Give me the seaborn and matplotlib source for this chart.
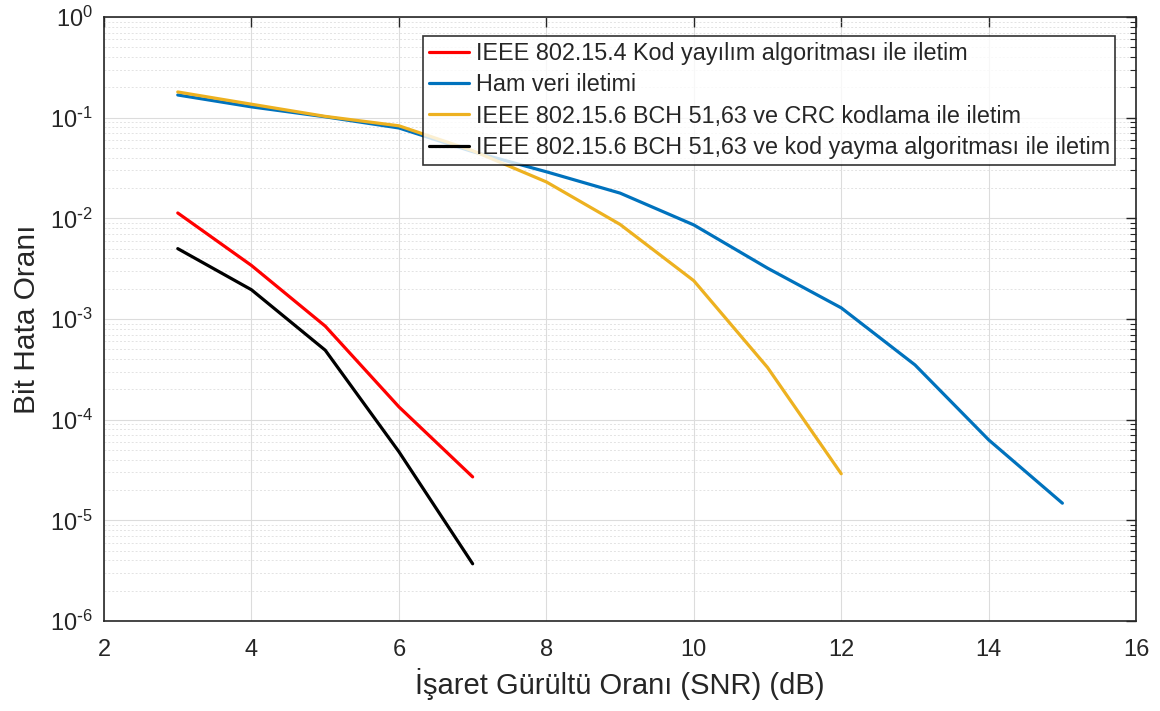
import numpy as np
import pandas as pd
import matplotlib
matplotlib.use('Agg')
import matplotlib.pyplot as plt
import matplotlib.ticker as mticker
import seaborn as sns

# Veri
snr_kisa = [3, 4, 5, 6, 7]
snr_orta = [3, 4, 5, 6, 7, 8, 9, 10, 11, 12]
snr_uzun = [3, 4, 5, 6, 7, 8, 9, 10, 11, 12, 13, 14, 15]

ber_802154 = [0.0113, 0.0034, 8.5e-4, 1.34e-4, 2.7e-5]
ber_ham = [0.168, 0.128, 0.102, 0.079, 0.046, 0.029, 0.0178, 0.0086, 0.0032,
           1.29e-3, 3.5e-4, 6.3e-5, 1.48e-5]
ber_bch_crc = [0.18, 0.136, 0.103, 0.083, 0.047, 0.023, 0.0087, 0.0024,
               3.3e-4, 2.9e-5]
ber_bch_kod = [5.0e-3, 1.95e-3, 4.9e-4, 4.8e-5, 3.7e-6]

y_ticks = [1e-6, 1e-5, 1e-4, 1e-3, 1e-2, 1e-1, 1e0]
x_ticks = [2, 4, 6, 8, 10, 12, 14, 16]

etiketler = [
    'IEEE 802.15.4 Kod yayılım algoritması ile iletim',
    'Ham veri iletimi',
    'IEEE 802.15.6 BCH 51,63 ve CRC kodlama ile iletim',
    'IEEE 802.15.6 BCH 51,63 ve kod yayma algoritması ile iletim',
]
renkler = ['#FF0000', '#0072BD', '#EDB120', '#000000']

sns.set_theme(style='white')
plt.rcParams['font.family'] = ['Liberation Sans', 'DejaVu Sans']
plt.rcParams['mathtext.default'] = 'regular'

fig = plt.figure(figsize=(11.6, 7.11), dpi=100)
ax = fig.add_axes([0.0897, 0.1266, 0.8897, 0.8495])

seriler = [(snr_kisa, ber_802154), (snr_uzun, ber_ham),
           (snr_orta, ber_bch_crc), (snr_kisa, ber_bch_kod)]
for (x, y), etiket, renk in zip(seriler, etiketler, renkler):
    sns.lineplot(x=x, y=y, ax=ax, color=renk, label=etiket, linewidth=2.3)

ax.set_yscale('log')
ax.set_xlim(2, 16)
ax.set_ylim(1e-6, 1)
ax.set_xticks(x_ticks)
ax.set_yticks(y_ticks)
ax.yaxis.set_minor_locator(mticker.LogLocator(base=10, subs=np.arange(2, 10), numticks=20))
ax.yaxis.set_minor_formatter(mticker.NullFormatter())


def us_etiket(deger, pos):
    us = int(round(np.log10(deger)))
    if us < 0:
        return r'$10^{\text{-}%d}$' % (-us)
    return r'$10^{%d}$' % us


ax.yaxis.set_major_formatter(mticker.FuncFormatter(us_etiket))

ax.grid(True, which='major', color='#dcdcdc', linewidth=0.8)
ax.grid(True, which='minor', axis='y', color='#e3e3e3', linewidth=0.7, linestyle=(0, (2, 2)))
ax.set_axisbelow(True)

ax.tick_params(axis='both', which='both', direction='in', top=True, right=True,
               colors='#262626', labelcolor='#262626')
ax.tick_params(axis='both', which='major', length=7, width=1, labelsize=17)
ax.tick_params(axis='x', which='major', pad=13)
ax.tick_params(axis='y', which='major', pad=8)
ax.tick_params(axis='y', which='minor', length=4, width=0.8)
for s in ax.spines.values():
    s.set_color('#262626')
    s.set_linewidth(1.2)

ax.set_xlabel('İşaret Gürültü Oranı (SNR) (dB)', fontsize=21, color='#262626', labelpad=5)
ax.set_ylabel('Bit Hata Oranı', fontsize=21.5, color='#262626', labelpad=6)

leg = ax.legend(loc='upper right', bbox_to_anchor=(0.98, 0.9685), fontsize=16.8,
                frameon=True, fancybox=False, handlelength=1.7, handletextpad=0.3,
                borderpad=0.25, labelspacing=0.36, borderaxespad=0)
leg.get_frame().set_edgecolor('#000000')
leg.get_frame().set_linewidth(1.2)

plt.savefig('out.png', dpi=100)
